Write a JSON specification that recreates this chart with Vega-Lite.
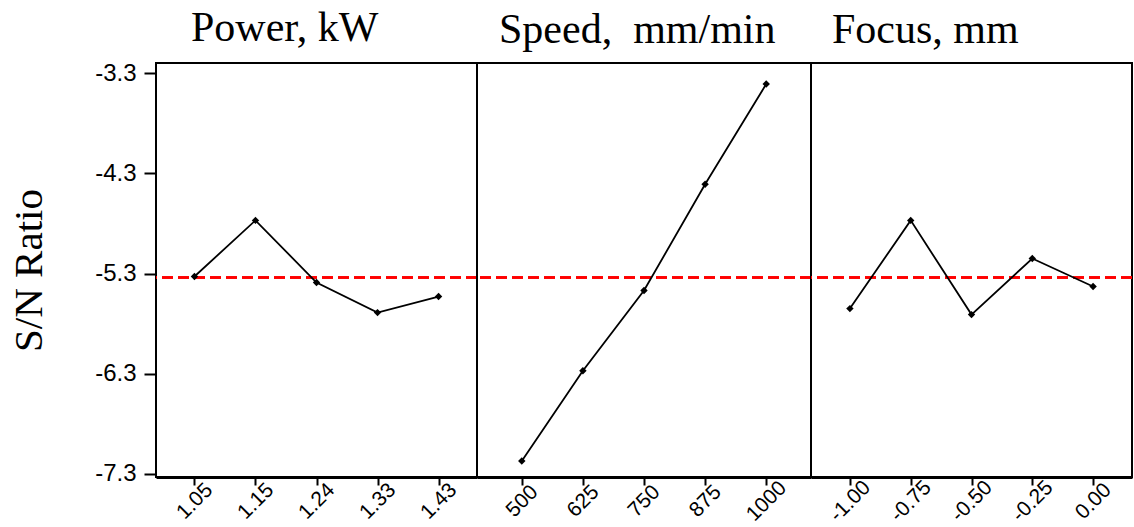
{
  "$schema": "https://vega.github.io/schema/vega-lite/v6.json",
  "background": "white",
  "padding": {"left": 7, "top": 6, "right": 1, "bottom": 2},
  "spacing": 0,
  "bounds": "flush",
  "data": {
    "values": [
      {"factor": "Power", "level": "1.05", "sn": -5.33},
      {"factor": "Power", "level": "1.15", "sn": -4.77},
      {"factor": "Power", "level": "1.24", "sn": -5.39},
      {"factor": "Power", "level": "1.33", "sn": -5.69},
      {"factor": "Power", "level": "1.43", "sn": -5.53},
      {"factor": "Speed", "level": "500", "sn": -7.17},
      {"factor": "Speed", "level": "625", "sn": -6.27},
      {"factor": "Speed", "level": "750", "sn": -5.47},
      {"factor": "Speed", "level": "875", "sn": -4.41},
      {"factor": "Speed", "level": "1000", "sn": -3.41},
      {"factor": "Focus", "level": "-1.00", "sn": -5.65},
      {"factor": "Focus", "level": "-0.75", "sn": -4.77},
      {"factor": "Focus", "level": "-0.50", "sn": -5.71},
      {"factor": "Focus", "level": "-0.25", "sn": -5.15},
      {"factor": "Focus", "level": "0.00", "sn": -5.43}
    ]
  },
  "hconcat": [
    {
      "width": 321,
      "height": 414,
      "title": {"text": "Power, kW", "dx": 35},
      "transform": [{"filter": "datum.factor === 'Power'"}],
      "layer": [
        {
          "mark": {"type": "rule", "color": "#ff0000", "strokeWidth": 2, "strokeDash": [11, 5]},
          "encoding": {"y": {"datum": -5.34, "type": "quantitative", "scale": {"domain": [-7.33, -3.2], "nice": false, "zero": false}}}
        },
        {
          "mark": {"type": "line", "color": "black", "strokeWidth": 1.8},
          "encoding": {
            "x": {"field": "level", "type": "ordinal", "sort": ["1.05", "1.15", "1.24", "1.33", "1.43"], "scale": {"type": "point", "padding": 0.63}},
            "y": {"field": "sn", "type": "quantitative", "scale": {"domain": [-7.33, -3.2], "nice": false, "zero": false},
              "axis": {"title": "S/N Ratio", "values": [-7.3, -6.3, -5.3, -4.3, -3.3], "labelExpr": "replace(format(datum.value, '.1f'), '\u2212', '-')", "domain": false, "grid": false, "tickSize": 12, "tickWidth": 2, "tickColor": "black", "labelFont": "Liberation Sans", "labelFontSize": 24, "labelColor": "black", "labelPadding": 8, "titleFont": "Liberation Serif", "titleFontSize": 41, "titleFontWeight": "normal", "titleColor": "black", "titlePadding": 44}}
          }
        },
        {
          "mark": {"type": "point", "shape": "diamond", "filled": true, "color": "black", "size": 55, "opacity": 1},
          "encoding": {
            "x": {"field": "level", "type": "ordinal", "sort": ["1.05", "1.15", "1.24", "1.33", "1.43"]},
            "y": {"field": "sn", "type": "quantitative"}
          }
        }
      ]
    },
    {
      "width": 334,
      "height": 414,
      "title": {"text": "Speed,\u00a0 mm/min", "dx": 22},
      "transform": [{"filter": "datum.factor === 'Speed'"}],
      "layer": [
        {
          "mark": {"type": "rule", "color": "#ff0000", "strokeWidth": 2, "strokeDash": [11, 5]},
          "encoding": {"y": {"datum": -5.34, "type": "quantitative", "scale": {"domain": [-7.33, -3.2], "nice": false, "zero": false}, "axis": null}}
        },
        {
          "mark": {"type": "line", "color": "black", "strokeWidth": 1.8},
          "encoding": {
            "x": {"field": "level", "type": "ordinal", "sort": ["500", "625", "750", "875", "1000"], "scale": {"type": "point", "padding": 0.733}},
            "y": {"field": "sn", "type": "quantitative", "scale": {"domain": [-7.33, -3.2], "nice": false, "zero": false}, "axis": null}
          }
        },
        {
          "mark": {"type": "point", "shape": "diamond", "filled": true, "color": "black", "size": 55, "opacity": 1},
          "encoding": {
            "x": {"field": "level", "type": "ordinal", "sort": ["500", "625", "750", "875", "1000"]},
            "y": {"field": "sn", "type": "quantitative", "axis": null}
          }
        }
      ]
    },
    {
      "width": 321,
      "height": 414,
      "title": {"text": "Focus, mm", "dx": 21},
      "transform": [{"filter": "datum.factor === 'Focus'"}],
      "layer": [
        {
          "mark": {"type": "rule", "color": "#ff0000", "strokeWidth": 2, "strokeDash": [11, 5]},
          "encoding": {"y": {"datum": -5.34, "type": "quantitative", "scale": {"domain": [-7.33, -3.2], "nice": false, "zero": false}, "axis": null}}
        },
        {
          "mark": {"type": "line", "color": "black", "strokeWidth": 1.8},
          "encoding": {
            "x": {"field": "level", "type": "ordinal", "sort": ["-1.00", "-0.75", "-0.50", "-0.25", "0.00"], "scale": {"type": "point", "padding": 0.64}},
            "y": {"field": "sn", "type": "quantitative", "scale": {"domain": [-7.33, -3.2], "nice": false, "zero": false}, "axis": null}
          }
        },
        {
          "mark": {"type": "point", "shape": "diamond", "filled": true, "color": "black", "size": 55, "opacity": 1},
          "encoding": {
            "x": {"field": "level", "type": "ordinal", "sort": ["-1.00", "-0.75", "-0.50", "-0.25", "0.00"]},
            "y": {"field": "sn", "type": "quantitative", "axis": null}
          }
        }
      ]
    }
  ],
  "config": {
    "view": {"stroke": "black", "strokeWidth": 2},
    "title": {"font": "Liberation Serif", "fontSize": 42, "fontWeight": "normal", "color": "black", "anchor": "start", "frame": "group", "baseline": "alphabetic", "offset": 11},
    "axisX": {"title": null, "grid": false, "domainColor": "black", "domainWidth": 3, "tickColor": "black", "tickWidth": 2, "tickSize": 8, "labelAngle": -45, "labelAlign": "center", "labelBaseline": "middle", "labelPadding": 16, "labelFont": "Liberation Sans", "labelFontSize": 21, "labelColor": "black"}
  }
}
